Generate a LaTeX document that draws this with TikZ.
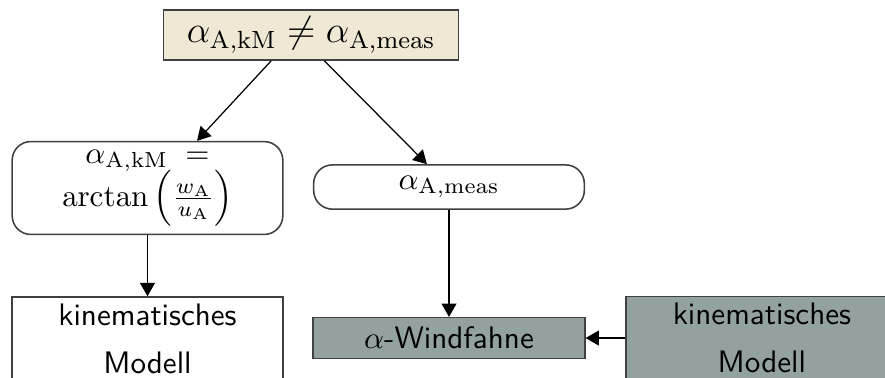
\documentclass[tikz,border=0pt]{standalone}
\usepackage{amsmath}
\usepackage{xcolor}
\usepackage{tikz}
\usetikzlibrary{arrows.meta, positioning}
\definecolor{beige}{HTML}{EEE8D5}
\definecolor{slate}{HTML}{93A1A1}
\tikzset{
  box/.style={rectangle, draw=black!75, line width=0.5pt, fill=white,
              minimum width=3.07cm, minimum height=0.94cm, align=center,
              font=\sffamily, inner sep=1pt},
  rbox/.style={rectangle, rounded corners=6pt, draw=black!75, line width=0.5pt,
               fill=white, minimum width=3.06cm, align=center, inner ysep=0.5pt},
  topbox/.style={rectangle, draw=black!75, line width=0.5pt, fill=beige,
                 minimum width=3.34cm, minimum height=0.565cm, font=\large,
                 inner ysep=1pt},
  gbox/.style={box, fill=slate},
  arr/.style={-{Triangle[length=4.3pt, width=4.8pt]}, line width=0.4pt},
}

\begin{document}
\begin{tikzpicture}[x=0.0113cm, y=-0.0113cm]
  \clip (0,0) rectangle (885,377);

  %% === Top: mismatch ===
  \node[topbox] (mismatch) at (311,35)
        {$\alpha_{\mathrm{A,kM}} \neq \alpha_{\mathrm{A,meas}}$};

  %% === Middle row ===
  \node[rbox, minimum height=1.05cm] (calc) at (147.5,188)
        {$\alpha_{\mathrm{A,kM}}\;=$\\[-1.5pt]
         $\arctan\left(\frac{w_{\mathrm{A}}}{u_{\mathrm{A}}}\right)$};
  \node[rbox, minimum height=0.50cm] (meas) at (449,187)
        {$\alpha_{\mathrm{A,meas}}$};

  %% === Bottom row ===
  \node[box, below=0.69cm of calc]  (kinL)  {kinematisches\\[3.5pt]Modell};
  \node[gbox, minimum height=0.46cm, below=1.21cm of meas] (vane)
        {$\alpha$-Windfahne};
  \node[gbox, right=0.45cm of vane] (kinR)  {kinematisches\\[3.5pt]Modell};

  %% === Arrows ===
  \draw[arr] ([xshift=-0.45cm]mismatch.south) -- ([xshift=0.56cm]calc.north);
  \draw[arr] ([xshift=0.15cm]mismatch.south)  -- ([xshift=-0.25cm]meas.north);
  \draw[arr] (calc.south) -- (kinL.north);
  \draw[arr] (meas.south) -- (vane.north);
  \draw[arr] (kinR.west)  -- (vane.east);
\end{tikzpicture}
\end{document}
